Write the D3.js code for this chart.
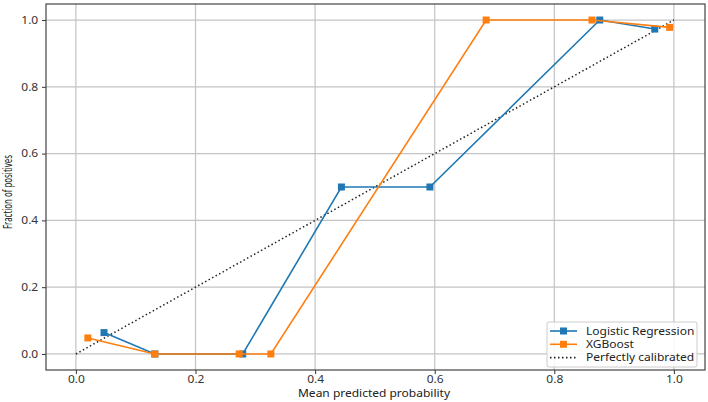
<!DOCTYPE html>
<html>
<head>
<meta charset="utf-8">
<script src="https://cdn.jsdelivr.net/npm/d3@7"></script>
<style>
  body { margin: 0; background: #fff; }
  text { font-family: "Noto Sans", "DejaVu Sans", sans-serif; }
</style>
</head>
<body>
<script>
// Calibration curves
const lrX = [0.047, 0.132, 0.279, 0.444, 0.592, 0.876, 0.968];
const lrY = [0.064, 0.0, 0.0, 0.5, 0.5, 1.0, 0.973];
const xgbX = [0.02, 0.132, 0.273, 0.326, 0.686, 0.863, 0.993];
const xgbY = [0.048, 0.0, 0.0, 0.0, 1.0, 1.0, 0.978];
const refX = [0, 1];
const refY = [0, 1];
const tickVals = [0, 0.2, 0.4, 0.6, 0.8, 1.0];

let width = 708,
    height = 402;

let margin = { top: 4, bottom: 32, left: 46, right: 3 };

// the picture is stretched sideways, so text is widened a bit
const stretch = 'scale(1.2,1)';

let svg = d3.select('body')
    .append('svg')
    .attr('width', width)
    .attr('height', height);

let xScale = d3.scaleLinear()
    .domain([-0.05, 1.052])
    .range([margin.left, width - margin.right]);

let yScale = d3.scaleLinear()
    .domain([-0.048, 1.048])
    .range([height - margin.bottom, margin.top]);

// Grid lines
svg.append('g')
    .selectAll('line.gx')
    .data(tickVals)
    .enter().append('line')
    .attr('x1', d => xScale(d)).attr('x2', d => xScale(d))
    .attr('y1', margin.top).attr('y2', height - margin.bottom)
    .attr('stroke', '#c4c4c4').attr('stroke-width', 1.2);

svg.append('g')
    .selectAll('line.gy')
    .data(tickVals)
    .enter().append('line')
    .attr('y1', d => yScale(d)).attr('y2', d => yScale(d))
    .attr('x1', margin.left).attr('x2', width - margin.right)
    .attr('stroke', '#c4c4c4').attr('stroke-width', 1.2);

// Axes
let xAxis = svg.append('g')
    .attr('transform', `translate(0, ${height - margin.bottom})`)
    .call(d3.axisBottom(xScale).tickValues(tickVals).tickFormat(d3.format('.1f')).tickSize(4).tickSizeOuter(0));

let yAxis = svg.append('g')
    .attr('transform', `translate(${margin.left},0)`)
    .call(d3.axisLeft(yScale).tickValues(tickVals).tickFormat(d3.format('.1f')).tickSize(4).tickSizeOuter(0));

[xAxis, yAxis].forEach(a => {
    a.select('.domain').remove();
    a.selectAll('text').style('font-size', '10px').attr('fill', '#333').attr('transform', stretch);
    a.selectAll('line').attr('stroke', '#333');
});
xAxis.selectAll('text').attr('y', 6);
yAxis.selectAll('text').attr('x', -6.5);

// Frame
svg.append('rect')
    .attr('x', margin.left).attr('y', margin.top)
    .attr('width', width - margin.left - margin.right)
    .attr('height', height - margin.top - margin.bottom)
    .attr('fill', 'none').attr('stroke', '#444').attr('stroke-width', 1.2);

// Lines
let line = d3.line().x(d => xScale(d[0])).y(d => yScale(d[1]));

svg.append('path')
    .datum(d3.zip(refX, refY))
    .attr('d', line)
    .attr('fill', 'none').attr('stroke', '#222')
    .attr('stroke-width', 1.5).attr('stroke-dasharray', '1.5,2.5');

function drawSeries(xs, ys, color) {
    let pts = d3.zip(xs, ys);
    svg.append('path')
        .datum(pts)
        .attr('d', line)
        .attr('fill', 'none').attr('stroke', color).attr('stroke-width', 1.6);
    svg.append('g').selectAll('rect')
        .data(pts)
        .enter().append('rect')
        .attr('x', d => xScale(d[0]) - 3.5)
        .attr('y', d => yScale(d[1]) - 3.5)
        .attr('width', 7).attr('height', 7)
        .attr('fill', color);
}

drawSeries(lrX, lrY, '#1f77b4');
drawSeries(xgbX, xgbY, '#ff7f0e');

// Axis labels
svg.append('text')
    .attr('transform', `translate(374, 397) ${stretch}`)
    .attr('text-anchor', 'middle')
    .style('font-size', '10px')
    .attr('fill', '#222')
    .text('Mean predicted probability');

svg.append('text')
    .attr('transform', `translate(12, 192) ${stretch} rotate(-90)`)
    .attr('text-anchor', 'middle')
    .attr('textLength', 74)
    .attr('lengthAdjust', 'spacingAndGlyphs')
    .style('font-size', '10px')
    .attr('fill', '#222')
    .text('Fraction of positives');

// Legend
const legendNames = ['Logistic Regression', 'XGBoost', 'Perfectly calibrated'];
const legendColors = ['#1f77b4', '#ff7f0e', '#222'];

let legend = svg.append('g').attr('transform', 'translate(547, 322)');
legend.append('rect')
    .attr('width', 150).attr('height', 45).attr('rx', 2)
    .attr('fill', 'rgba(255,255,255,0.85)').attr('stroke', '#ccc');

legendNames.forEach((name, i) => {
    let y = 9 + i * 13.3;
    let ln = legend.append('line')
        .attr('x1', 3).attr('x2', 30).attr('y1', y).attr('y2', y)
        .attr('stroke', legendColors[i]).attr('stroke-width', 1.6);
    if (i === 2) {
        ln.attr('stroke-dasharray', '1.5,2.5');
    } else {
        legend.append('rect')
            .attr('x', 13).attr('y', y - 3.5).attr('width', 7).attr('height', 7)
            .attr('fill', legendColors[i]);
    }
    legend.append('text')
        .attr('transform', `translate(39, ${y + 3.6}) ${stretch}`)
        .style('font-size', '10px')
        .attr('fill', '#222')
        .text(name);
});
</script>
</body>
</html>
